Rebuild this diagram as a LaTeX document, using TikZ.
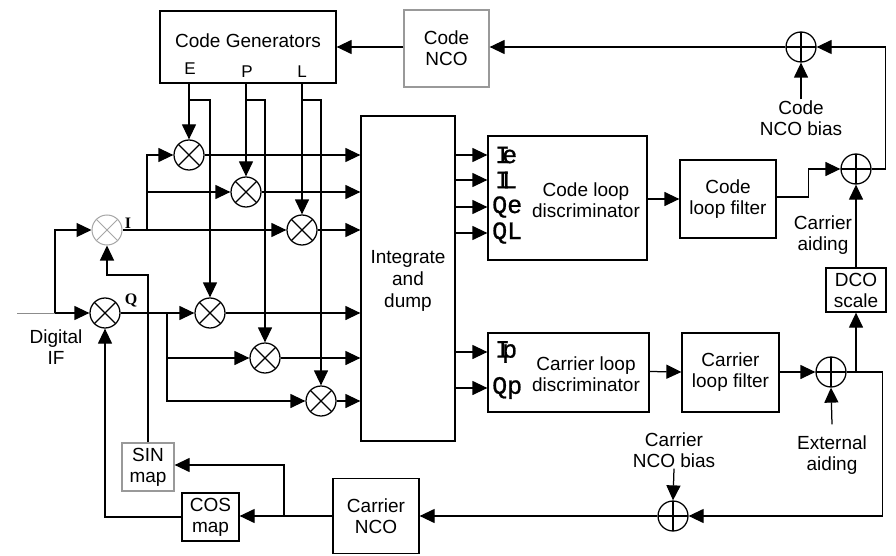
\documentclass[tikz,border=0pt]{standalone}
\usepackage{fontspec}
\setmainfont{Liberation Sans}
\newfontfamily\monofnt[FakeBold=0.8]{Liberation Mono}
\newfontfamily\seriffnt{Liberation Serif}
\usetikzlibrary{arrows.meta}
\begin{document}
\begin{tikzpicture}[x=1pt,y=-1pt,
  every node/.style={font=\fontsize{19}{21}\selectfont},
  ln/.style={line width=1.25pt},
  arr/.style={ln,-{Triangle[length=15pt,width=14pt]}},
  box/.style={draw, line width=1.25pt, inner sep=0pt, align=center},
  graybox/.style={box, draw=black!40},
  txt/.style={align=center, inner sep=1pt},
  mix/.style={draw, circle, line width=1.25pt, minimum size=30pt, inner sep=0pt,
    path picture={\draw[line width=1.1pt] (path picture bounding box.north west) -- (path picture bounding box.south east)
      (path picture bounding box.north east) -- (path picture bounding box.south west);}},
  graymix/.style={draw=black!35, circle, line width=1pt, minimum size=30pt, inner sep=0pt,
    path picture={\draw[line width=0.9pt, black!35] (path picture bounding box.north west) -- (path picture bounding box.south east)
      (path picture bounding box.north east) -- (path picture bounding box.south west);}},
  sum/.style={draw, circle, line width=1.25pt, minimum size=30pt, inner sep=0pt,
    path picture={\draw[line width=1.1pt] (path picture bounding box.north) -- (path picture bounding box.south)
      (path picture bounding box.east) -- (path picture bounding box.west);}},
  lbl/.style={font=\monofnt\fontsize{25}{25}\selectfont, inner sep=0pt, anchor=west},
  iq/.style={font=\seriffnt\bfseries\fontsize{16}{16}\selectfont, inner sep=0pt},
  epl/.style={font=\fontsize{17}{17}\selectfont, inner sep=0pt}
]
\useasboundingbox (0,0) rectangle (896,556);

% boxes
\node[box, minimum width=176pt, minimum height=72pt] (cg) at (248,47) {};
\node[txt] (cgt) at (248,41) {Code Generators};
\node[epl] (E) at (190,69) {E};
\node[epl] (P) at (247,72) {P};
\node[epl] (L) at (302,72) {L};
\node[graybox, minimum width=85pt, minimum height=77pt] (cnco) at (446.5,48.5) {Code\\NCO};
\node[box, minimum width=94pt, minimum height=325pt] (intd) at (408,278.5) {};
\node[txt, font=\fontsize{19}{22}\selectfont] (intdt) at (408,281) {Integrate\\and\\dump};
\node[box, minimum width=159pt, minimum height=124pt] (cld) at (567.5,198) {};
\node[txt] (cldt) at (586,200) {Code loop\\discriminator};
\node[box, minimum width=96pt, minimum height=78pt] (clf) at (728,199) {Code\\loop filter};
\node[box, minimum width=161pt, minimum height=79pt] (crd) at (568.5,372.5) {};
\node[txt] (crdt) at (586,374) {Carrier loop\\discriminator};
\node[box, minimum width=97pt, minimum height=79pt] (crf) at (730.5,372.5) {Carrier\\loop filter};
\node[box, minimum width=60pt, minimum height=44pt] (dco) at (856,290) {DCO\\scale};
\node[box, minimum width=86pt, minimum height=75pt] (cnc) at (376,516) {Carrier\\NCO};
\node[graybox, minimum width=52pt, minimum height=48pt] (sin) at (148,467) {SIN\\map};
\node[box, minimum width=57pt, minimum height=48pt] (cos) at (210.5,517) {COS\\map};

% discriminator input labels
\node[lbl] (lIe) at (495,155) {I\kern-.32em e};
\node[lbl] (lIL) at (495,180) {I\kern-.32em L};
\node[lbl] (lQe) at (492,207) {Qe};
\node[lbl] (lQL) at (492,233) {QL};
\node[lbl] (lIp) at (495,352) {I\kern-.32em p};
\node[lbl] (lQp) at (492,388) {Qp};

% sums
\node[sum] (s1) at (801,47) {};
\node[sum] (s2) at (856,169) {};
\node[sum] (s3) at (831,372) {};
\node[sum] (s4) at (673,516) {};

% mixers
\node[graymix] (mI) at (107,230) {};
\node[mix] (mQ) at (105,313) {};
\node[mix] (mIE) at (189,155) {};
\node[mix] (mIP) at (246,192) {};
\node[mix] (mIL) at (302,230) {};
\node[mix] (mQE) at (210,313) {};
\node[mix] (mQP) at (265,358) {};
\node[mix] (mQL) at (321,401) {};
\node[iq] (Il) at (128,223) {I};
\node[iq] (Ql) at (131,300) {Q};

% text labels
\node[txt] (cnb) at (801,118) {Code\\NCO bias};
\node[txt] (ca) at (823,235) {Carrier\\aiding};
\node[txt] (ea) at (832,455) {External\\aiding};
\node[txt] (cnb2) at (674,450) {Carrier\\NCO bias};
\node[txt] (dif) at (56,347) {Digital\\IF};

% coordinates
\coordinate (if) at (17,313);
\coordinate (jIF) at (55,313);
\coordinate (jI) at (147,230);
\coordinate (jQ) at (167,313);
\coordinate (bE) at (189,100);
\coordinate (bP) at (246,100);
\coordinate (bL) at (302,100);
\coordinate (jN) at (284,516);

% top loop
\draw[arr] (cnco.west |- cg.east) -- (cg.east);
\draw[arr] (s1.west) -- (cnco.east |- s1.west);
\draw[arr] (s2.east) -- ++(14,0) |- (s1.east);
\draw[arr] (cnb.north) -- (s1.south);
\draw[arr] (cld.east |- clf.west) -- (clf.west);
\draw[arr] (clf.east) ++(0,-2) -- ++(32,0) |- (s2.west);
\draw[arr] (dco.north) -- (s2.south);

% integrate and dump outputs
\draw[arr] (intd.east |- lIe) -- (cld.west |- lIe);
\draw[arr] (intd.east |- lIL) -- (cld.west |- lIL);
\draw[arr] (intd.east |- lQe) -- (cld.west |- lQe);
\draw[arr] (intd.east |- lQL) -- (cld.west |- lQL);
\draw[arr] (intd.east |- lIp) -- (crd.west |- lIp);
\draw[arr] (intd.east |- lQp) -- (crd.west |- lQp);

% carrier loop
\draw[arr] (crd.east) ++(0,-1) -- (crf.west |- s3.west);
\draw[arr] (crf.east |- s3.west) -- (s3.west);
\draw[arr] ([yshift=10pt]ea.north) -- (s3.south);
\draw[arr] (s3.east) -| (dco.south);
\draw[arr] (s3.east) -- ++(36,0) |- (s4.east);
\draw[arr] (cnb2.south) -- (s4.north);
\draw[arr] (s4.west) -- (cnc.east |- s4.west);
\draw[arr] (cnc.west) -- (cos.east |- cnc.west);
\draw[arr] (jN) |- ([yshift=2pt]sin.east);
\draw[arr] (cos.west) -| (mQ.south);
\draw[arr] (sin.north) |- (148,275) -| (mI.south);

% digital IF input
\draw[line width=0.7pt, black!45] (if) -- (jIF);
\draw[arr] (jIF) -- (mQ.west);
\draw[arr] (jIF) |- (mI.west);

% I branch
\draw[arr] (mI.east) -- (mIL.west);
\draw[arr] (jI) |- (mIE.west);
\draw[arr] (jI |- mIP) -- (mIP.west);
% Q branch
\draw[arr] (mQ.east) -- (mQE.west);
\draw[arr] (jQ) |- (mQP.west);
\draw[arr] (jQ) |- (mQL.west);

% mixer outputs
\draw[arr] (mIE.east) -- (intd.west |- mIE);
\draw[arr] (mIP.east) -- (intd.west |- mIP);
\draw[arr] (mIL.east) -- (intd.west |- mIL);
\draw[arr] (mQE.east) -- (intd.west |- mQE);
\draw[arr] (mQP.east) -- (intd.west |- mQP);
\draw[arr] (mQL.east) -- (intd.west |- mQL);

% code generator lines
\draw[arr] (cg.south -| mIE) -- (mIE.north);
\draw[arr] (cg.south -| mIP) -- (mIP.north);
\draw[arr] (cg.south -| mIL) -- (mIL.north);
\draw[arr] (bE) -| (mQE.north);
\draw[arr] (bP) -| (mQP.north);
\draw[arr] (bL) -| (mQL.north);
\end{tikzpicture}
\end{document}
